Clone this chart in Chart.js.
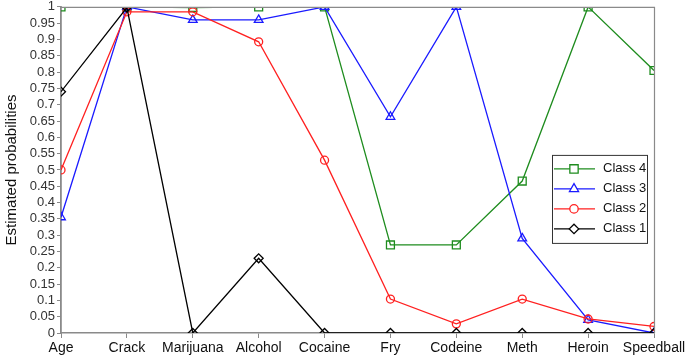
<!DOCTYPE html>
<html>
<head>
<meta charset="utf-8">
<script src="https://cdn.jsdelivr.net/npm/chart.js@4/dist/chart.umd.min.js"></script>
<style>
  html, body { margin: 0; padding: 0; background: #ffffff; }
  #wrap { width: 685px; height: 358px; }
</style>
</head>
<body>
<div id="wrap"><canvas id="c" width="685" height="358"></canvas></div>
<script>
const categories = ["Age", "Crack", "Marijuana", "Alcohol", "Cocaine", "Fry", "Codeine", "Meth", "Heroin", "Speedball"];
const class4 = [1.0, 1.0, 0.998, 1.0, 1.0, 0.27, 0.27, 0.466, 1.0, 0.805];
const class3 = [0.355, 1.0, 0.96, 0.96, 1.0, 0.663, 1.0, 0.29, 0.04, 0.0];
const class2 = [0.5, 0.985, 0.985, 0.893, 0.53, 0.104, 0.028, 0.104, 0.043, 0.02];
const class1 = [0.74, 0.998, 0.0, 0.229, 0.0, 0.0, 0.0, 0.0, 0.0, 0.0];
const seriesNames = ["Class 4", "Class 3", "Class 2", "Class 1"];
const yTickStep = 0.05;

const FONT = "'Liberation Sans', Arial, sans-serif";
const AXIS = '#8a8a8a';

function ds(label, data, color, style, radius, order) {
  return {
    label, data,
    borderColor: color,
    backgroundColor: 'rgba(255,255,255,0)',
    borderWidth: 1.3,
    pointStyle: style,
    pointRadius: radius,
    pointHoverRadius: radius,
    pointBorderColor: color,
    pointBackgroundColor: 'rgba(255,255,255,0)',
    pointBorderWidth: 1.3,
    tension: 0,
    clip: 0,
    order
  };
}

const datasets = [
  ds(seriesNames[0], class4, '#1e8c1e', 'rect', 5.6, 4),
  ds(seriesNames[1], class3, '#1a1aff', 'triangle', 5, 3),
  ds(seriesNames[2], class2, '#ff2020', 'circle', 4, 2),
  ds(seriesNames[3], class1, '#000000', 'rectRot', 4.5, 1)
];

const framePlugin = {
  id: 'frame',
  afterDraw(chart) {
    const { ctx, chartArea: a } = chart;
    ctx.save();
    ctx.strokeStyle = AXIS;
    ctx.lineWidth = 1.2;
    ctx.beginPath();
    ctx.moveTo(a.left, a.top + 0.5);
    ctx.lineTo(a.right + 0.5, a.top + 0.5);
    ctx.lineTo(a.right + 0.5, a.bottom);
    ctx.stroke();
    ctx.restore();
  }
};

const legendPlugin = {
  id: 'boxLegend',
  afterDraw(chart) {
    const { ctx, chartArea: a } = chart;
    const bw = 95, bh = 88;
    const bx = a.right - 102, by = a.top + 148;
    ctx.save();
    ctx.fillStyle = '#ffffff';
    ctx.fillRect(bx, by, bw, bh);
    ctx.strokeStyle = '#333333';
    ctx.lineWidth = 1;
    ctx.strokeRect(bx + 0.5, by + 0.5, bw, bh);
    chart.data.datasets.forEach((d, i) => {
      const y = by + 14 + i * 20;
      ctx.strokeStyle = d.borderColor;
      ctx.lineWidth = 1.3;
      ctx.beginPath();
      ctx.moveTo(bx + 2, y);
      ctx.lineTo(bx + 43, y);
      ctx.stroke();
      ctx.fillStyle = '#ffffff';
      ctx.strokeStyle = d.borderColor;
      Chart.helpers.drawPoint(ctx, {
        pointStyle: d.pointStyle,
        radius: d.pointRadius * 1.05,
        borderWidth: 1.3
      }, bx + 22, y);
      ctx.fillStyle = '#111';
      ctx.font = '13px ' + FONT;
      ctx.textBaseline = 'middle';
      ctx.textAlign = 'left';
      ctx.fillText(d.label, bx + 51, y);
    });
    ctx.restore();
  }
};

new Chart(document.getElementById('c'), {
  type: 'line',
  data: { labels: categories, datasets },
  options: {
    responsive: false,
    animation: false,
    devicePixelRatio: 1,
    layout: { padding: { top: 0, right: 31, left: 0, bottom: 0 } },
    plugins: { legend: { display: false }, tooltip: { enabled: false } },
    scales: {
      x: {
        type: 'category',
        offset: false,
        grid: { display: true, drawOnChartArea: false, drawTicks: true, tickLength: 5, color: AXIS, lineWidth: 1 },
        border: { display: true, color: AXIS, width: 1.5 },
        ticks: { color: '#111', font: { family: FONT, size: 14 }, padding: 2, maxRotation: 0, autoSkip: false },
        afterFit(s) { s.height = 25; s.paddingRight = 0; s.paddingLeft = 0; }
      },
      y: {
        min: 0, max: 1,
        grid: { display: true, drawOnChartArea: false, drawTicks: true, tickLength: 4, color: AXIS, lineWidth: 1 },
        border: { display: true, color: AXIS, width: 1.8 },
        ticks: {
          stepSize: yTickStep,
          autoSkip: false,
          color: '#333',
          font: { family: FONT, size: 13, lineHeight: 0.65 },
          padding: 2,
          callback: v => String(Number(v.toFixed(2)))
        },
        title: { display: true, text: 'Estimated probabilities', color: '#111', font: { family: FONT, size: 15 }, padding: { top: 3, bottom: 0 } },
        afterFit(s) { s.width = 61; }
      }
    }
  },
  plugins: [framePlugin, legendPlugin]
});
</script>
</body>
</html>
